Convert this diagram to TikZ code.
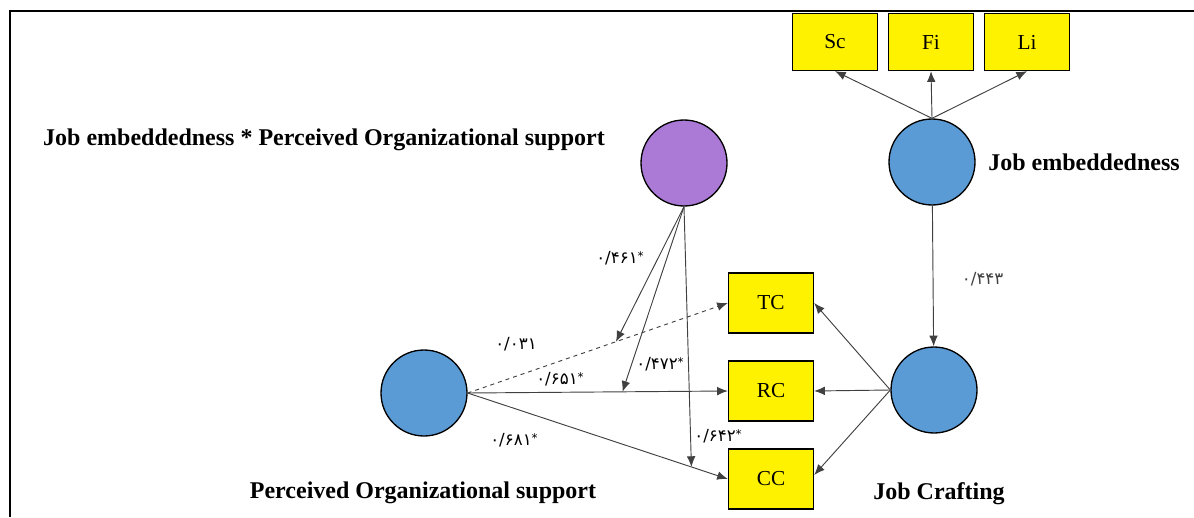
\documentclass[tikz,border=0pt]{standalone}
\usepackage{fontspec}
\setmainfont{Liberation Serif}
\newfontfamily\numfont{DejaVu Sans}
\usetikzlibrary{arrows.meta,positioning,calc}
\definecolor{latblue}{RGB}{91,155,213}
\definecolor{intpurple}{RGB}{171,122,214}
\newcommand{\sigstar}{\raisebox{2.5pt}{\fontsize{9}{9}\selectfont *}}
\tikzstyle{latent} = [draw, circle, line width=1pt, minimum size=64.5pt, fill=latblue]
\tikzstyle{item} = [draw, rectangle, line width=1pt, minimum width=63.75pt, minimum height=45pt, fill=yellow, font=\fontsize{16}{18}\selectfont]
\tikzstyle{title} = [font=\bfseries\fontsize{18}{20}\selectfont]
\tikzstyle{coef} = [font=\numfont\fontsize{12.5}{14}\selectfont]
\tikzstyle{arr} = [draw, ->, color=black!75, line width=0.7pt]

\begin{document}
\begin{tikzpicture}[x=0.75pt, y=-0.75pt, >={Latex[length=8pt,width=6.5pt]}]
    \useasboundingbox (0,0) rectangle (1194,517);
    \draw [line width=1.2pt] (10,517) -- (10,11) -- (1194,11);

    % indicators of job embeddedness
    \node at (835,42) [item, minimum height=42.75pt, name=sc] {Sc};
    \node at (931,42) [item, minimum height=42.75pt, name=fi] {Fi};
    \node at (1027,42) [item, minimum height=42.75pt, name=li] {Li};

    \node at (932,162) [latent, name=je] {};
    \node [title, right=6pt of je] (jelabel) {Job embeddedness};
    \node at (684,163) [latent, fill=intpurple, name=inter] {};
    \node at (324,140) [title] (interlabel) {Job embeddedness * Perceived Organizational support};
    \node at (424,393) [latent, name=pos] {};
    \node at (423,493) [title] (poslabel) {Perceived Organizational support};
    \node at (934,390) [latent, name=jc] {};
    \node at (939,494) [title] (jclabel) {Job Crafting};

    \node at (771,303) [item, name=tc] {TC};
    \node at (771,391) [item, name=rc] {RC};
    \node at (771,479) [item, name=cc] {CC};

    \draw [arr] (je.north) -- (sc.south);
    \draw [arr] (je.north) -- (fi.south);
    \draw [arr] (je.north) -- (li.south);
    \draw [arr] (je) -- node [coef, pos=0.52, right=18pt] {۰/۴۴۳} (jc);

    \draw [arr] (jc.west) -- (tc.east);
    \draw [arr] (jc.west) -- (rc.east);
    \draw [arr] (jc.west) -- ($(cc.east)+(0,-4)$);

    \draw [arr, dashed] (pos.east) -- (tc.west);
    \draw [arr] (pos.east) -- (rc.west);
    \draw [arr] (pos.east) -- (cc.west);
    \node at (516,344) [coef] {۰/۰۳۱};
    \node at (560,379) [coef] {۰/۶۵۱\sigstar};
    \node at (514,440) [coef] {۰/۶۸۱\sigstar};

    % moderating paths
    \draw [arr] (inter.south) -- ($(pos.east)!0.57!(tc.west)$);
    \draw [arr] (inter.south) -- ($(pos.east)!0.595!(rc.west)$);
    \draw [arr] (inter.south) -- ($(pos.east)!0.86!(cc.west)$);
    \node at (620,258) [coef] {۰/۴۶۱\sigstar};
    \node at (660,364) [coef] {۰/۴۷۲\sigstar};
    \node at (718,436) [coef] {۰/۶۴۲\sigstar};
\end{tikzpicture}
\end{document}
